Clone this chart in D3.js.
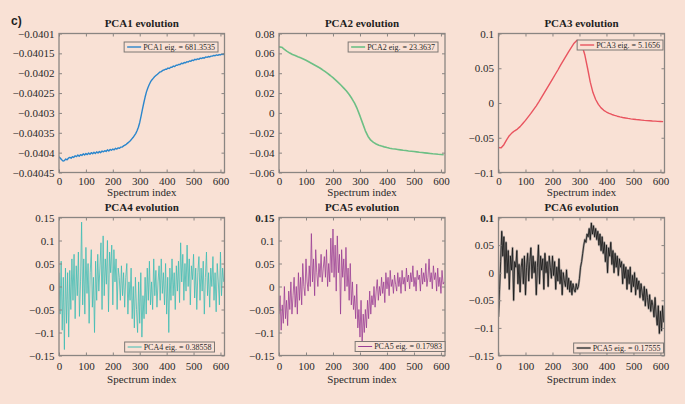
<!DOCTYPE html>
<meta charset="utf-8">
<html lang="en">
<head>
<style>
  body { margin: 0; background: #f9e1d5; }
  svg { display: block; }
  .frame { fill: none; stroke: #8a8582; stroke-width: 1.3px; }
  .legend rect { fill: #f9e1d5; stroke: #7d7875; stroke-width: 1px; }
</style>
</head>
<body>
<svg id="chart"></svg>
<script src="https://d3js.org/d3.v7.min.js"></script>
<script>

// ---- data ----
var titles = ["PCA1 evolution", "PCA2 evolution", "PCA3 evolution",
              "PCA4 evolution", "PCA5 evolution", "PCA6 evolution"];
var legendLabels = ["PCA1 eig. = 681.3535", "PCA2 eig. = 23.3637", "PCA3 eig. = 5.1656",
                    "PCA4 eig. = 0.38558", "PCA5 eig. = 0.17983", "PCA5 eig. = 0.17555"];
var xTicks = [0, 100, 200, 300, 400, 500, 600];
var yTicks = [
  [-0.04045, -0.0404, -0.04035, -0.0403, -0.04025, -0.0402, -0.04015, -0.0401],
  [-0.06, -0.04, -0.02, 0, 0.02, 0.04, 0.06, 0.08],
  [-0.1, -0.05, 0, 0.05, 0.1],
  [-0.15, -0.1, -0.05, 0, 0.05, 0.1, 0.15],
  [-0.15, -0.1, -0.05, 0, 0.05, 0.1, 0.15],
  [-0.15, -0.1, -0.05, 0, 0.05, 0.1]
];
// spectrum index spacing between stored samples of each series
var sampleStep = [5, 10, 10, 4, 4, 4];

var pca1 = [
  -0.040410, -0.040414, -0.040418, -0.040421, -0.040420, -0.040416, -0.040418, -0.040414, -0.040412, -0.040414,
  -0.040410, -0.040412, -0.040408, -0.040410, -0.040406, -0.040409, -0.040405, -0.040407, -0.040403, -0.040406,
  -0.040402, -0.040405, -0.040401, -0.040404, -0.040400, -0.040403, -0.040399, -0.040402, -0.040398, -0.040401,
  -0.040397, -0.040400, -0.040396, -0.040398, -0.040395, -0.040397, -0.040393, -0.040396, -0.040392, -0.040394,
  -0.040391, -0.040393, -0.040389, -0.040391, -0.040388, -0.040389, -0.040386, -0.040386, -0.040383, -0.040381,
  -0.040379, -0.040376, -0.040373, -0.040370, -0.040366, -0.040362, -0.040357, -0.040352, -0.040345, -0.040336,
  -0.040324, -0.040308, -0.040291, -0.040275, -0.040260, -0.040247, -0.040237, -0.040229, -0.040222, -0.040217,
  -0.040213, -0.040209, -0.040206, -0.040203, -0.040200, -0.040197, -0.040196, -0.040193, -0.040192, -0.040190,
  -0.040190, -0.040187, -0.040188, -0.040185, -0.040185, -0.040182, -0.040183, -0.040180, -0.040180, -0.040178,
  -0.040178, -0.040175, -0.040176, -0.040173, -0.040174, -0.040171, -0.040172, -0.040169, -0.040170, -0.040167,
  -0.040168, -0.040165, -0.040166, -0.040164, -0.040165, -0.040162, -0.040163, -0.040161, -0.040162, -0.040159,
  -0.040160, -0.040158, -0.040159, -0.040157, -0.040157, -0.040155, -0.040156, -0.040154, -0.040155, -0.040153,
  -0.040154, -0.040152, -0.040153, -0.040150
];

var pca2 = [
  0.0665, 0.0662, 0.0640, 0.0620, 0.0603, 0.0588, 0.0578, 0.0566, 0.0555, 0.0543,
  0.0530, 0.0515, 0.0500, 0.0485, 0.0470, 0.0455, 0.0437, 0.0418, 0.0398, 0.0377,
  0.0355, 0.0331, 0.0305, 0.0279, 0.0250, 0.0220, 0.0185, 0.0145, 0.0098, 0.0040,
  -0.0030, -0.0105, -0.0180, -0.0237, -0.0275, -0.0297, -0.0313, -0.0325, -0.0334, -0.0342,
  -0.0349, -0.0355, -0.0360, -0.0364, -0.0368, -0.0372, -0.0376, -0.0379, -0.0383, -0.0386,
  -0.0389, -0.0392, -0.0396, -0.0399, -0.0402, -0.0405, -0.0408, -0.0411, -0.0413, -0.0416,
  -0.0418, -0.0421
];

var pca3 = [
  -0.0640, -0.0645, -0.0600, -0.0530, -0.0470, -0.0430, -0.0400, -0.0375, -0.0340, -0.0295,
  -0.0250, -0.0200, -0.0150, -0.0095, -0.0040, 0.0020, 0.0085, 0.0150, 0.0215, 0.0280,
  0.0345, 0.0410, 0.0475, 0.0545, 0.0610, 0.0675, 0.0740, 0.0800, 0.0860, 0.0900,
  0.0895, 0.0820, 0.0690, 0.0500, 0.0300, 0.0150, 0.0050, -0.0020, -0.0070, -0.0105,
  -0.0130, -0.0150, -0.0165, -0.0178, -0.0190, -0.0200, -0.0208, -0.0215, -0.0222, -0.0228,
  -0.0233, -0.0238, -0.0242, -0.0246, -0.0250, -0.0253, -0.0256, -0.0259, -0.0261, -0.0264,
  -0.0266, -0.0268
];

var pca4 = [
  0.030, -0.060, 0.055, -0.095, 0.020, -0.137, 0.040, -0.080, 0.030, -0.110,
  0.035, -0.050, 0.060, -0.030, 0.070, -0.070, 0.045, -0.020, 0.075, -0.065,
  0.010, 0.140, -0.040, 0.060, -0.060, 0.085, -0.015, 0.050, -0.080, 0.030,
  0.080, -0.045, 0.020, -0.100, 0.055, -0.030, 0.070, -0.010, 0.040, 0.095,
  -0.050, 0.110, -0.020, 0.060, 0.005, 0.100, -0.055, 0.075, 0.030, 0.090,
  -0.040, 0.080, 0.010, 0.060, -0.050, 0.040, 0.020, -0.030, 0.045, -0.020,
  0.030, -0.045, 0.020, 0.050, -0.060, 0.010, -0.030, 0.040, -0.070, 0.000,
  -0.090, 0.020, -0.050, -0.100, 0.010, -0.080, 0.030, -0.110, -0.020, -0.070,
  0.020, -0.060, 0.040, -0.030, 0.055, -0.040, 0.010, -0.050, 0.060, -0.020,
  0.035, -0.045, 0.010, 0.045, -0.030, 0.060, -0.015, 0.030, -0.040, 0.050,
  -0.060, 0.020, -0.100, 0.040, -0.030, 0.060, -0.020, 0.030, -0.050, 0.045,
  -0.010, 0.055, -0.035, 0.095, 0.010, 0.070, -0.030, 0.050, -0.010, 0.090,
  0.000, 0.060, -0.040, 0.045, 0.015, 0.070, -0.025, 0.040, -0.050, 0.030,
  0.065, -0.030, 0.040, -0.010, 0.055, -0.060, 0.020, 0.075, -0.020, 0.030,
  -0.045, 0.040, 0.000, 0.065, -0.030, 0.030, -0.055, 0.050, 0.010, -0.040,
  0.075, -0.020, 0.040, 0.010
];

var pca5 = [
  -0.060, -0.020, -0.095, -0.040, -0.080, 0.000, -0.070, -0.030, -0.085, -0.010,
  -0.050, 0.010, -0.060, -0.020, 0.020, -0.045, 0.000, -0.060, 0.030, -0.030,
  0.020, -0.040, 0.050, 0.000, -0.020, 0.060, 0.010, -0.010, 0.045, 0.000,
  0.115, 0.010, 0.060, -0.020, 0.080, 0.030, 0.000, 0.050, 0.020, 0.070,
  0.010, 0.040, 0.065, 0.020, 0.080, 0.000, 0.050, 0.010, 0.105, 0.030,
  0.125, 0.020, 0.090, -0.010, 0.110, 0.030, 0.070, -0.060, 0.080, 0.020,
  0.060, -0.010, 0.085, 0.000, 0.040, -0.030, 0.050, -0.040, 0.010, -0.050,
  -0.020, -0.070, 0.005, -0.090, -0.050, -0.110, -0.030, -0.130, -0.060, -0.100,
  -0.050, -0.090, -0.030, -0.070, -0.010, -0.060, -0.020, -0.040, 0.000, -0.045,
  -0.010, 0.015, -0.030, 0.000, -0.020, 0.020, -0.015, 0.010, -0.035, 0.030,
  -0.005, 0.020, -0.020, 0.035, 0.000, 0.015, -0.015, 0.025, 0.005, -0.010,
  0.030, 0.000, 0.020, -0.015, 0.035, 0.005, 0.020, -0.010, 0.040, 0.010,
  0.025, -0.005, 0.030, 0.010, 0.045, 0.000, 0.020, -0.010, 0.035, 0.015,
  0.025, -0.010, 0.040, 0.005, 0.030, 0.010, 0.050, 0.000, 0.020, 0.060,
  0.010, 0.030, -0.005, 0.045, 0.015, 0.030, -0.010, 0.040, 0.000, 0.020,
  -0.015, 0.035, 0.005, 0.010
];

var pca6 = [
  -0.080, -0.030, 0.020, 0.075, 0.030, 0.065, -0.010, 0.055, 0.000, 0.040,
  -0.030, 0.030, 0.005, 0.045, -0.050, 0.020, 0.010, 0.040, -0.020, 0.015,
  -0.035, 0.010, 0.025, -0.020, 0.030, -0.040, 0.010, 0.035, -0.015, 0.020,
  0.045, -0.010, 0.030, 0.000, 0.020, -0.040, 0.010, 0.050, -0.020, 0.030,
  0.005, 0.025, -0.030, 0.035, 0.000, 0.020, -0.025, 0.030, 0.010, -0.010,
  0.030, -0.005, 0.020, -0.030, 0.010, -0.015, 0.025, -0.020, 0.005, -0.040,
  0.000, -0.015, -0.025, 0.005, -0.030, -0.010, -0.035, -0.015, -0.040, -0.020,
  -0.030, -0.035, -0.020, -0.030, -0.025, -0.010, 0.010, 0.020, 0.035, 0.050,
  0.060, 0.055, 0.070, 0.065, 0.080, 0.060, 0.090, 0.070, 0.085, 0.065,
  0.080, 0.060, 0.075, 0.050, 0.070, 0.040, 0.065, 0.035, 0.055, 0.020,
  0.050, 0.000, 0.045, 0.030, 0.055, 0.015, 0.040, 0.000, 0.035, 0.010,
  0.030, -0.005, 0.025, 0.010, 0.020, -0.020, 0.015, -0.010, 0.010, -0.030,
  0.005, -0.020, 0.010, -0.035, -0.005, -0.025, 0.000, -0.040, -0.010, -0.030,
  -0.015, -0.045, -0.020, -0.035, -0.050, -0.025, -0.060, -0.030, -0.045, -0.065,
  -0.040, -0.070, -0.050, -0.060, -0.080, -0.045, -0.075, -0.095, -0.060, -0.110,
  -0.070, -0.105, -0.060, -0.090
];

var series = [pca1, pca2, pca3, pca4, pca5, pca6];

// ---- layout / styling ----
var width = 685, height = 404;
var frameColor = "#8a8582";
var textColor = "#2a2a2a";
var serif = '"Liberation Serif", "Times New Roman", serif';
var colX = [[59, 224.5], [279, 445], [498.5, 664.5]];
var rowY = [[33.5, 172.5], [217.5, 355.5]];
var rowTickPad = [5, 7];
var rowLabelDy = [23.5, 27.5];
var lineStyle = [
  { color: "#2b86cc", width: 1.4, opacity: 1 },
  { color: "#6dbf85", width: 1.6, opacity: 1 },
  { color: "#e9545f", width: 1.4, opacity: 1 },
  { color: "#3fbdb4", width: 1, opacity: 0.8 },
  { color: "#9a3f95", width: 1, opacity: 0.8 },
  { color: "#141414", width: 0.8, opacity: 1, halo: "#8a8685" }
];
// legend: top/bottom anchor, offset from that edge, gap to right edge
var legendPlace = [
  { top: true, dy: 8.5, right: 6.5 },
  { top: true, dy: 8.5, right: 7 },
  { top: true, dy: 6.5, right: 1.5 },
  { top: false, dy: 3.5, right: 10 },
  { top: false, dy: 4, right: 0 },
  { top: false, dy: 2.5, right: 1 }
];
var boldTopTick = [false, false, false, false, true, true];

var svg = d3.select("#chart")
  .attr("width", width)
  .attr("height", height);

svg.append("rect")
  .attr("width", width)
  .attr("height", height)
  .attr("fill", "#f9e1d5");

svg.append("text")
  .attr("x", 11)
  .attr("y", 25)
  .attr("font-family", '"Liberation Sans", Arial, sans-serif')
  .attr("font-size", 12)
  .attr("font-weight", "bold")
  .attr("fill", "#1e1e1e")
  .text("c)");

var fmt = d3.format("~g");

series.forEach(function(values, i) {
  var c = i % 3, r = Math.floor(i / 3);
  var x0 = colX[c][0], x1 = colX[c][1];
  var yTop = rowY[r][0], yBot = rowY[r][1];
  var ticks = yTicks[i];

  var x = d3.scaleLinear().domain([0, 615]).range([x0, x1]);
  var y = d3.scaleLinear().domain([ticks[0], ticks[ticks.length - 1]]).range([yBot, yTop]);

  var g = svg.append("g").attr("class", "panel");

  g.append("clipPath")
    .attr("id", "clip" + i)
    .append("rect")
    .attr("x", x0).attr("y", yTop)
    .attr("width", x1 - x0).attr("height", yBot - yTop);

  var line = d3.line()
    .x(function(d, k) { return x(k * sampleStep[i]); })
    .y(function(d) { return y(d); });

  var st = lineStyle[i];
  var plot = g.append("g").attr("clip-path", "url(#clip" + i + ")");
  if (st.halo) {
    plot.append("path")
      .datum(values)
      .attr("d", line)
      .attr("fill", "none")
      .attr("stroke", st.halo)
      .attr("stroke-width", 2.2)
      .attr("stroke-opacity", 0.8)
      .attr("stroke-linejoin", "round");
  }
  plot.append("path")
    .datum(values)
    .attr("d", line)
    .attr("fill", "none")
    .attr("stroke", st.color)
    .attr("stroke-width", st.width)
    .attr("stroke-opacity", st.opacity)
    .attr("stroke-linejoin", "round");

  // axes: ticks pointing inward on all four sides
  var bottom = g.append("g")
    .attr("transform", "translate(0," + yBot + ")")
    .call(d3.axisBottom(x).tickValues(xTicks).tickSize(-3).tickPadding(rowTickPad[r]).tickFormat(d3.format("d")));
  var left = g.append("g")
    .attr("transform", "translate(" + x0 + ",0)")
    .call(d3.axisLeft(y).tickValues(ticks).tickSize(-3).tickPadding(4.5).tickFormat(fmt));
  var top = g.append("g")
    .attr("transform", "translate(0," + yTop + ")")
    .call(d3.axisTop(x).tickValues(xTicks).tickSize(-3).tickFormat(""));
  var right = g.append("g")
    .attr("transform", "translate(" + x1 + ",0)")
    .call(d3.axisRight(y).tickValues(ticks).tickSize(-3).tickFormat(""));

  [bottom, left, top, right].forEach(function(a) {
    a.select(".domain").remove();
    a.selectAll(".tick line").attr("stroke", frameColor);
    a.attr("font-family", serif).attr("font-size", 11);
    a.selectAll("text").attr("fill", textColor);
  });
  if (boldTopTick[i]) {
    left.selectAll(".tick text")
      .filter(function(d) { return d === ticks[ticks.length - 1]; })
      .attr("font-weight", "bold");
  }

  g.append("rect")
    .attr("class", "frame")
    .attr("x", x0).attr("y", yTop)
    .attr("width", x1 - x0).attr("height", yBot - yTop);

  g.append("text")
    .attr("x", (x0 + x1) / 2)
    .attr("y", yTop - 6.5)
    .attr("text-anchor", "middle")
    .attr("font-family", serif)
    .attr("font-size", 11)
    .attr("font-weight", "bold")
    .attr("fill", "#1e1e1e")
    .text(titles[i]);

  g.append("text")
    .attr("x", (x0 + x1) / 2)
    .attr("y", yBot + rowLabelDy[r])
    .attr("text-anchor", "middle")
    .attr("font-family", serif)
    .attr("font-size", 11)
    .attr("font-weight", "normal")
    .attr("fill", textColor)
    .text("Spectrum index");

  // legend box
  var lp = legendPlace[i];
  var leg = g.append("g").attr("class", "legend");
  var box = leg.append("rect");
  var lt = leg.append("text")
    .attr("font-family", serif)
    .attr("font-size", 8)
    .attr("fill", textColor)
    .text(legendLabels[i]);
  var tw = lt.node().getComputedTextLength();
  var bw = tw + 22, bh = 10;
  var bx = x1 - lp.right - bw;
  var by = lp.top ? yTop + lp.dy : yBot - lp.dy - bh;
  box.attr("x", bx).attr("y", by).attr("width", bw).attr("height", bh);
  if (st.halo) {
    leg.append("line")
      .attr("x1", bx + 3).attr("x2", bx + 17)
      .attr("y1", by + bh / 2).attr("y2", by + bh / 2)
      .attr("stroke", st.halo).attr("stroke-width", 2.2).attr("stroke-opacity", 0.8);
  }
  leg.append("line")
    .attr("x1", bx + 3).attr("x2", bx + 17)
    .attr("y1", by + bh / 2).attr("y2", by + bh / 2)
    .attr("stroke", st.color).attr("stroke-width", st.width);
  lt.attr("x", bx + 19).attr("y", by + 7.8);
});

</script>
</body>
</html>
